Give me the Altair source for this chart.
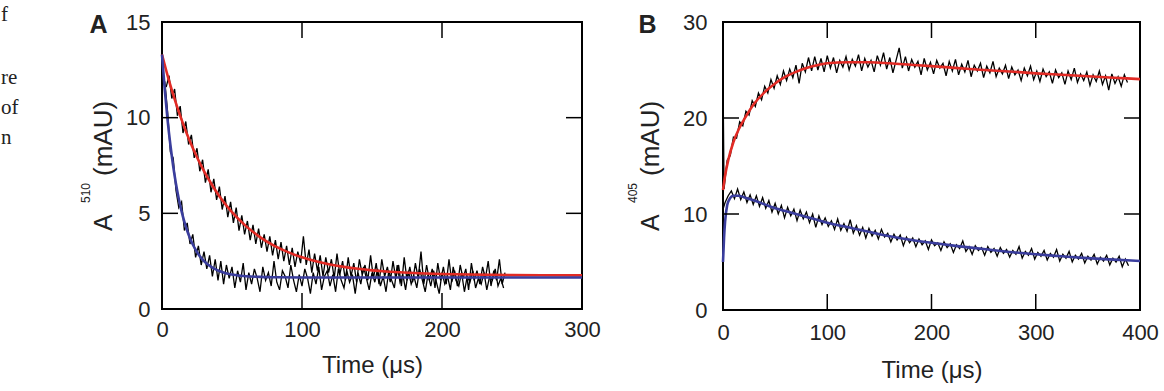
import altair as alt
import pandas as pd

# ---------------- Panel A data (A510, mAU vs time, us) ----------------
a_fast_t = list(range(2, 246, 2))
a_fast_v = [
    11.9, 10.3, 8.2, 7.9, 6.2, 5.3, 5.6, 4.1, 4.5, 3.4,
    3.9, 2.7, 3.3, 2.3, 3.0, 2.1, 2.8, 1.7, 2.6, 1.5,
    2.5, 1.3, 2.3, 1.6, 2.2, 1.1, 2.0, 1.4, 2.4, 1.0,
    1.9, 1.3, 2.1, 1.6, 0.9, 2.2, 1.5, 1.9, 1.2, 2.5,
    1.4, 1.0, 2.0, 1.7, 1.1, 2.3, 1.5, 0.9, 1.8, 1.2,
    2.1, 1.6, 0.8, 1.9, 1.3, 2.2, 1.0, 1.7, 2.0, 1.2,
    1.8, 0.9, 2.1, 1.5, 1.1, 2.0, 1.4, 1.8, 0.8, 1.9,
    1.3, 2.2, 1.6, 1.0, 1.9, 1.4, 2.1, 1.2, 1.7, 0.9,
    2.0, 1.5, 1.1, 2.3, 1.4, 1.8, 1.0, 2.0, 1.3, 1.7,
    1.1, 2.1, 1.5, 0.9, 1.8, 1.2, 2.0, 1.4, 0.8, 1.9,
    1.3, 1.7, 1.0, 2.2, 1.5, 1.2, 1.9, 0.9, 1.7, 1.4,
    2.0, 1.1, 1.6, 1.3, 1.9, 1.0, 1.7, 1.5, 2.1, 1.2,
    1.6, 1.1,
]
a_slow_t = list(range(3, 247, 2))
a_slow_v = [
    11.6, 12.2, 11.0, 11.5, 10.1, 10.6, 9.2, 9.8, 8.6, 9.1,
    7.9, 8.4, 7.2, 7.8, 6.6, 7.3, 6.1, 6.8, 5.7, 6.4,
    5.2, 5.9, 4.8, 5.6, 4.5, 5.3, 4.1, 4.9, 3.9, 4.6,
    3.6, 4.4, 3.4, 4.2, 3.2, 3.9, 3.0, 3.8, 2.8, 3.6,
    2.6, 3.5, 2.5, 3.3, 2.3, 3.2, 2.2, 3.0, 2.4, 3.8,
    2.3, 3.1, 1.9, 2.9, 2.0, 2.8, 1.7, 2.7, 1.9, 2.6,
    1.6, 2.9, 1.8, 2.5, 1.5, 2.7, 1.7, 2.4, 1.4, 2.6,
    1.8, 2.3, 1.5, 2.8, 1.6, 2.4, 1.3, 2.6, 1.7, 2.2,
    1.4, 2.5, 1.6, 2.3, 1.2, 2.7, 1.5, 2.2, 1.4, 2.4,
    1.6, 3.0, 1.3, 2.3, 1.5, 2.1, 1.1, 2.4, 1.5, 2.2,
    1.3, 2.6, 1.4, 2.0, 1.2, 2.3, 1.6, 2.1, 1.0, 2.4,
    1.5, 2.0, 1.3, 2.2, 1.6, 2.5, 1.2, 2.0, 1.5, 2.6,
    1.3, 1.9,
]
a_fit_blue_t = [0, 2, 4, 6, 8, 10, 12, 14, 16, 18, 20, 22, 24, 26, 28, 30, 32, 34,
                36, 38, 40, 45, 50, 60, 70, 80, 100, 150, 200, 250, 300]
a_fit_blue_v = [13.3, 11.44, 9.87, 8.57, 7.46, 6.53, 5.75, 5.10, 4.55, 4.09, 3.70,
                3.37, 3.10, 2.86, 2.67, 2.51, 2.37, 2.26, 2.16, 2.08, 2.01, 1.88,
                1.80, 1.71, 1.68, 1.66, 1.65, 1.65, 1.65, 1.65, 1.65]
a_fit_red_t = [0, 5, 10, 15, 20, 25, 30, 35, 40, 45, 50, 60, 70, 80, 90, 100, 110,
               120, 130, 140, 150, 160, 170, 180, 200, 220, 250, 300]
a_fit_red_v = [13.3, 11.94, 10.75, 9.69, 8.75, 7.93, 7.21, 6.57, 6.00, 5.50, 5.06,
               4.33, 3.76, 3.31, 2.97, 2.70, 2.49, 2.33, 2.20, 2.10, 2.02, 1.96,
               1.92, 1.88, 1.83, 1.80, 1.77, 1.76]

# ---------------- Panel B data (A405, mAU vs time, us) ----------------
b_red_t = [0] + list(range(1, 389, 3))
b_red_v = [
    24.7, 12.6,
    15.6, 16.1, 18.0, 17.9, 19.6, 19.2, 20.7, 20.3, 21.8, 21.2,
    22.6, 21.9, 23.3, 22.6, 24.0, 23.1, 24.4, 23.5, 24.9, 23.9,
    25.1, 24.2, 25.5, 23.6, 25.7, 24.8, 26.3, 24.9, 26.4, 25.0,
    26.2, 24.8, 26.5, 25.2, 26.3, 24.7, 26.0, 25.3, 26.4, 25.0,
    26.1, 25.4, 26.6, 24.9, 26.2, 25.3, 26.0, 24.8, 26.5, 25.5,
    26.8, 25.1, 26.3, 24.7, 26.0, 27.3, 25.2, 26.4, 24.9, 26.1,
    25.3, 25.9, 24.5, 26.2, 25.0, 25.8, 24.6, 26.0, 25.2, 25.7,
    24.4, 25.9, 24.9, 26.1, 24.5, 25.6, 24.8, 26.0, 24.3, 25.5,
    24.9, 25.7, 24.2, 25.4, 24.7, 25.9, 24.3, 25.2, 24.6, 25.5,
    24.1, 25.3, 24.5, 25.0, 23.9, 25.2, 24.4, 25.4, 24.0, 24.9,
    23.8, 25.1, 24.3, 24.8, 23.6, 25.0, 24.2, 24.7, 23.5, 24.9,
    24.0, 25.2, 23.7, 24.6, 23.9, 24.8, 23.4, 24.5, 23.8, 24.9,
    23.5, 24.4, 22.9, 24.6, 23.6, 24.3, 23.3, 24.5, 23.7,
]
b_blue_t = [0] + list(range(2, 390, 3))
b_blue_v = [
    10.5,
    11.2, 11.9, 12.4, 11.6, 12.6, 11.5, 12.3, 11.2, 12.0, 11.0,
    11.9, 10.8, 11.7, 10.6, 11.4, 10.2, 11.1, 10.0, 10.9, 9.6,
    10.7, 9.8, 10.5, 9.3, 10.4, 9.5, 10.2, 9.1, 10.0, 8.6,
    9.8, 8.9, 9.6, 8.7, 9.3, 8.4, 9.5, 8.3, 9.0, 8.2,
    9.4, 8.0, 8.8, 7.8, 8.6, 7.5, 8.5, 7.7, 8.3, 7.4,
    8.4, 7.6, 8.0, 7.1, 7.9, 7.3, 7.8, 6.7, 7.6, 7.0,
    7.5, 6.6, 7.4, 6.8, 7.2, 6.3, 7.3, 6.7, 7.0, 6.2,
    7.1, 6.5, 6.9, 6.0, 6.8, 6.4, 7.2, 6.1, 6.6, 5.8,
    6.7, 6.2, 6.5, 5.7, 6.6, 6.0, 6.4, 5.6, 6.5, 5.9,
    6.3, 5.5, 6.2, 5.8, 6.6, 5.4, 6.1, 5.7, 6.4, 5.3,
    6.0, 5.6, 6.2, 5.2, 5.9, 5.5, 6.3, 5.1, 5.8, 5.4,
    6.1, 5.0, 5.7, 5.3, 5.9, 4.9, 5.6, 5.2, 5.8, 4.8,
    5.5, 5.1, 5.7, 4.7, 5.4, 5.0, 5.6, 4.5, 5.3, 4.6,
]
b_fit_red_t = [0, 2, 5, 10, 15, 20, 25, 30, 40, 50, 60, 70, 80, 90, 100, 120, 140,
               160, 180, 200, 225, 250, 275, 300, 325, 350, 375, 400]
b_fit_red_v = [12.5, 14.0, 15.6, 17.5, 18.8, 19.8, 20.7, 21.5, 22.7, 23.6, 24.3,
               24.8, 25.2, 25.5, 25.7, 25.8, 25.8, 25.7, 25.55, 25.4, 25.2, 25.0,
               24.85, 24.65, 24.5, 24.35, 24.2, 24.05]
b_fit_blue_t = [0, 1, 2, 4, 6, 8, 10, 15, 20, 30, 40, 50, 60, 70, 80, 90, 100, 125,
                150, 175, 200, 225, 250, 275, 300, 325, 350, 375, 400]
b_fit_blue_v = [5.0, 7.5, 9.2, 10.9, 11.5, 11.8, 11.9, 11.9, 11.75, 11.4, 11.0, 10.6,
                10.3, 10.0, 9.7, 9.4, 9.1, 8.5, 7.9, 7.4, 7.0, 6.65, 6.35, 6.05, 5.8,
                5.6, 5.4, 5.25, 5.1]

# tick values
a_x_labels = [0, 100, 200, 300]
a_y_labels = [0, 5, 10, 15]
a_x_inner = [100, 200]
a_y_inner = [5, 10]
b_x_labels = [0, 100, 200, 300, 400]
b_y_labels = [0, 10, 20, 30]
b_x_inner = [100, 200, 300]
b_y_inner = [10, 20]

RED = "#e22b25"
BLUE = "#3a3d9d"
SANS = "Liberation Sans"
SERIF = "Liberation Serif"
TXT = "#222"
TICK = 16


def series_df(pairs):
    rows = []
    for name, ts, vs in pairs:
        for t, v in zip(ts, vs):
            rows.append({"t": t, "v": v, "series": name})
    return pd.DataFrame(rows)


dummy = pd.DataFrame({"d": [0]})


def text_layer(txt, x, y, size, angle=0, align="left", weight="normal", font=SANS):
    return alt.Chart(dummy).mark_text(
        font=font, fontSize=size, fontWeight=weight, color=TXT, align=align,
        baseline="alphabetic", angle=angle).encode(
        x=alt.value(x), y=alt.value(y), text=alt.value(txt))


def ytitle_layers(sup, base_x):
    # rotated title: "A" + superscript + "(mAU)", reading bottom to top
    return [
        text_layer("A", base_x, 209, 25, angle=270),
        text_layer(sup, base_x - 22, 181, 12, angle=270),
        text_layer("(mAU)", base_x, 154, 26, angle=270),
    ]


def panel(data_df, fit_df, xdom, ydom, xlabels, ylabels, xinner, yinner, W, H,
          lpx, lpy, tpx, letter, letter_x, extra_layers):
    xs = alt.Scale(domain=xdom, nice=False, zero=False)
    ys = alt.Scale(domain=ydom, nice=False, zero=False)
    xaxis = alt.Axis(values=xlabels, title="Time (μs)", ticks=False, tickSize=0,
                     domain=False, grid=False, labelFont=SANS, labelFontSize=22,
                     labelColor=TXT, labelPadding=lpx, titleFont=SANS,
                     titleFontSize=24, titleFontWeight="normal", titleColor=TXT,
                     titlePadding=tpx, labelFlush=False)
    yaxis = alt.Axis(values=ylabels, title=None, ticks=False, tickSize=0,
                     domain=False, grid=False, labelFont=SANS, labelFontSize=22,
                     labelColor=TXT, labelPadding=lpy, labelFlush=False)
    X = alt.X("t:Q", scale=xs, axis=xaxis)
    Y = alt.Y("v:Q", scale=ys, axis=yaxis)

    data_layer = alt.Chart(data_df).mark_line(color="black", strokeWidth=1.3).encode(
        x=X, y=Y, detail="series:N")
    fit_layer = alt.Chart(fit_df).mark_line(strokeWidth=2.6, interpolate="monotone").encode(
        x=X, y=Y,
        color=alt.Color("series:N", scale=alt.Scale(domain=["red", "blue"], range=[RED, BLUE]),
                        legend=None))

    xt = pd.DataFrame({"t": xinner})
    yt = pd.DataFrame({"v": yinner})
    tick_bottom = alt.Chart(xt).mark_rule(color="black", strokeWidth=1.5).encode(
        x=X, y=alt.value(H), y2=alt.value(H - TICK))
    tick_top = alt.Chart(xt).mark_rule(color="black", strokeWidth=1.5).encode(
        x=X, y=alt.value(0), y2=alt.value(TICK))
    tick_left = alt.Chart(yt).mark_rule(color="black", strokeWidth=1.5).encode(
        y=Y, x=alt.value(0), x2=alt.value(TICK))
    tick_right = alt.Chart(yt).mark_rule(color="black", strokeWidth=1.5).encode(
        y=Y, x=alt.value(W), x2=alt.value(W - TICK))

    letter_layer = text_layer(letter, letter_x, 11, 25, align="center", weight="bold")

    layers = [data_layer, fit_layer, tick_bottom, tick_top, tick_left, tick_right,
              letter_layer] + extra_layers
    return alt.layer(*layers).properties(width=W, height=H)


caption_lines = [("f", -1), ("re", 62), ("of", 92), ("n", 122)]
caption_layers = [text_layer(txt, -161, yy, 21, font=SERIF) for txt, yy in caption_lines]
anchor = alt.Chart(dummy).mark_rule(strokeOpacity=0, strokeWidth=0).encode(
    x=alt.value(-161), x2=alt.value(-161), y=alt.value(-21), y2=alt.value(-20))

a_data = series_df([("fast", a_fast_t, a_fast_v), ("slow", a_slow_t, a_slow_v)])
a_fit = series_df([("red", a_fit_red_t, a_fit_red_v), ("blue", a_fit_blue_t, a_fit_blue_v)])
b_data = series_df([("red", b_red_t, b_red_v), ("blue", b_blue_t, b_blue_v)])
b_fit = series_df([("red", b_fit_red_t, b_fit_red_v), ("blue", b_fit_blue_t, b_fit_blue_v)])

pA = panel(a_data, a_fit, [0, 300], [0, 15], a_x_labels, a_y_labels, a_x_inner, a_y_inner,
           420, 287, 10, 12, 13, "A", -63.5,
           caption_layers + [anchor] + ytitle_layers("510", -50))
pB = panel(b_data, b_fit, [0, 400], [0, 30], b_x_labels, b_y_labels, b_x_inner, b_y_inner,
           417, 288, 12, 16, 15, "B", -75.5, ytitle_layers("405", -64))

chart = alt.hconcat(pA, pB, spacing=141, bounds="flush").properties(
    padding=0, background="white"
).configure_view(stroke="black", strokeWidth=2)

chart.save("out.html", embed_options={"renderer": "svg", "actions": False})
